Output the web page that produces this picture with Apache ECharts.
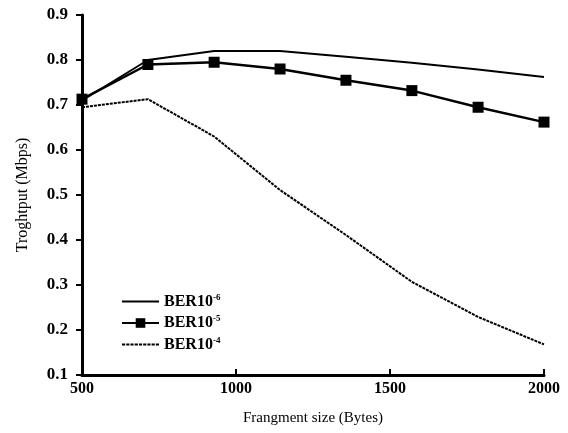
<!DOCTYPE html>
<html><head><meta charset="utf-8">
<script src="https://cdn.jsdelivr.net/npm/echarts@6/dist/echarts.min.js"></script>
<style>html,body{margin:0;padding:0;background:#fff}#c{width:568px;height:433px}</style>
</head><body><div id="c"></div>
<script>
const fragSizes = [500, 714, 929, 1143, 1357, 1571, 1786, 2000];
const ber6 = [0.71, 0.80, 0.82, 0.82, 0.807, 0.794, 0.779, 0.762];
const ber5 = [0.713, 0.79, 0.795, 0.78, 0.755, 0.732, 0.695, 0.662];
const ber4 = [0.695, 0.713, 0.63, 0.511, 0.411, 0.307, 0.229, 0.168];
const xTicks = [500, 1000, 1500, 2000];
const yTicks = [0.1, 0.2, 0.3, 0.4, 0.5, 0.6, 0.7, 0.8, 0.9];

const serif = '"Liberation Serif", "DejaVu Serif", serif';
const pairs = a => fragSizes.map((x, i) => [x, a[i]]);
let dashPath = 'path://';
for (let i = 0; i < 36; i += 4) dashPath += 'M' + i + ' 0H' + (i + 3) + 'V2H' + i + 'Z';
const chart = echarts.init(document.getElementById('c'));
chart.setOption({
  animation: false,
  backgroundColor: '#fff',
  grid: { left: 82, right: 24, top: 15, bottom: 58 },
  xAxis: {
    type: 'value', min: xTicks[0], max: xTicks[xTicks.length - 1], interval: 500,
    name: 'Frangment size (Bytes)', nameLocation: 'middle', nameGap: 36,
    nameTextStyle: { fontFamily: serif, fontSize: 15, color: '#000' },
    axisLine: { lineStyle: { color: '#000', width: 3 } },
    axisTick: { inside: true, length: 6, lineStyle: { color: '#000', width: 2 } },
    axisLabel: { fontFamily: serif, fontSize: 16, fontWeight: 'bold', color: '#000', margin: 6,
      formatter: v => String(v) },
    splitLine: { show: false }
  },
  yAxis: {
    type: 'value', min: 0.1, max: 0.9, interval: 0.1,
    name: 'Troghtput (Mbps)', nameLocation: 'middle', nameGap: 51,
    nameTextStyle: { fontFamily: serif, fontSize: 16, color: '#000' },
    axisLine: { show: true, lineStyle: { color: '#000', width: 3 } },
    axisTick: { show: true, length: 6, lineStyle: { color: '#000', width: 2 } },
    axisLabel: { fontFamily: serif, fontSize: 17, fontWeight: 'bold', color: '#000', margin: 14,
      formatter: v => v.toFixed(1) },
    splitLine: { show: false }
  },
  legend: {
    orient: 'vertical', left: 116, top: 288, itemGap: 5, itemWidth: 37, itemHeight: 12,
    textStyle: { fontFamily: serif, fontSize: 16, fontWeight: 'bold', color: '#000',
      rich: { sup: { fontFamily: serif, fontSize: 9, fontWeight: 'bold', color: '#000', verticalAlign: 'top', padding: [0, 0, 8, 0] } } },
    formatter: n => n.replace(/\^(.+)$/, '{sup|$1}'),
    data: [
      { name: 'BER10^-6', icon: 'path://M0 0H36V2H0Z' },
      { name: 'BER10^-5' },
      { name: 'BER10^-4', icon: dashPath }
    ]
  },
  series: [
    { name: 'BER10^-6', type: 'line', data: pairs(ber6), symbol: 'none',
      lineStyle: { color: '#000', width: 2 }, itemStyle: { color: '#000' } },
    { name: 'BER10^-5', type: 'line', data: pairs(ber5), symbol: 'rect', symbolSize: 11,
      lineStyle: { color: '#000', width: 2.5 }, itemStyle: { color: '#000' } },
    { name: 'BER10^-4', type: 'line', data: pairs(ber4), symbol: 'none',
      lineStyle: { color: '#000', width: 2, type: [3, 1] }, itemStyle: { color: '#000' } }
  ]
});
</script></body></html>
